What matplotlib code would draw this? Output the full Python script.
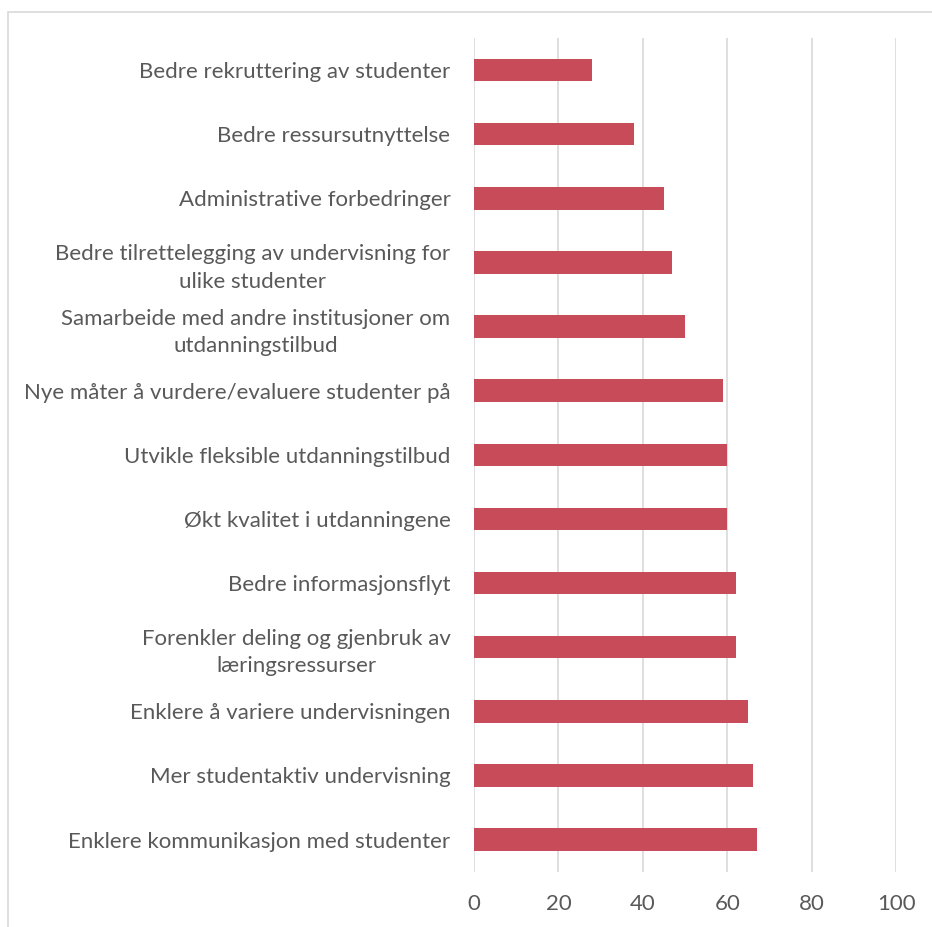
import matplotlib
matplotlib.use("Agg")
import matplotlib.pyplot as plt
from matplotlib.patches import Rectangle

categories = [
    "Bedre rekruttering av studenter",
    "Bedre ressursutnyttelse",
    "Administrative forbedringer",
    "Bedre tilrettelegging av undervisning for\nulike studenter",
    "Samarbeide med andre institusjoner om\nutdanningstilbud",
    "Nye måter å vurdere/evaluere studenter på",
    "Utvikle fleksible utdanningstilbud",
    "Økt kvalitet i utdanningene",
    "Bedre informasjonsflyt",
    "Forenkler deling og gjenbruk av\nlæringsressurser",
    "Enklere å variere undervisningen",
    "Mer studentaktiv undervisning",
    "Enklere kommunikasjon med studenter",
]
values = [28, 38, 45, 47, 50, 59, 60, 60, 62, 62, 65, 66, 67]
xticks = [0, 20, 40, 60, 80, 100]

plt.rcParams["font.family"] = ["Lato", "DejaVu Sans"]

fig = plt.figure(figsize=(9.32, 9.27), dpi=100)
ax = fig.add_axes([0.5086, 0.0597, 0.9614 - 0.5086, 0.959 - 0.0597])

n = len(categories)
ypos = list(range(n))
ax.barh(ypos, values, height=0.35, color="#C84B5A", zorder=3)
ax.set_ylim(n - 0.5, -0.5)
ax.set_xlim(0, 100)
ax.set_xticks(xticks)
ax.set_xticklabels([str(t) for t in xticks])
ax.set_yticks(ypos)
ax.set_yticklabels(categories, multialignment="center", linespacing=1.45)

ax.grid(axis="x", color="#D9D9D9", linewidth=1.2, zorder=0)
for s in ax.spines.values():
    s.set_visible(False)
ax.tick_params(axis="both", length=0, labelsize=16, labelcolor="#595959")
ax.tick_params(axis="x", pad=16)
ax.tick_params(axis="y", pad=17)

# light border around the chart area
fig.patches.append(Rectangle((8 / 932, -0.1), 1.2, 1 - 12 / 927 + 0.1,
                             transform=fig.transFigure, fill=False,
                             edgecolor="#D9D9D9", linewidth=1.2))

fig.savefig("out.png", dpi=100)
